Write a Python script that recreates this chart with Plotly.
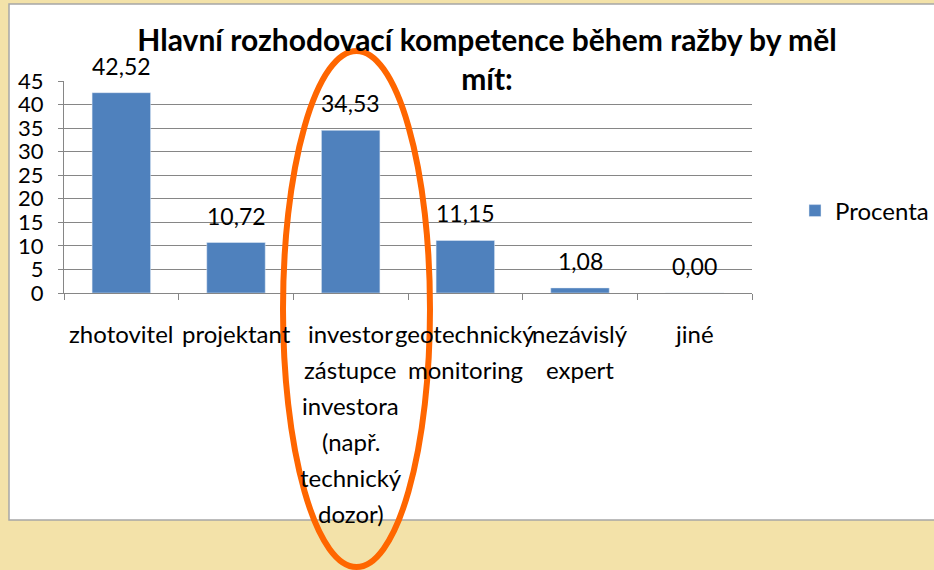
import plotly.graph_objects as go

categories = ["zhotovitel", "projektant",
              "investor zástupce investora (např. technický dozor)",
              "geotechnický monitoring", "nezávislý expert", "jiné"]
tick_lines = [["zhotovitel"], ["projektant"],
              ["investor", "zástupce", "investora", "(např.", "technický", "dozor)"],
              ["geotechnický", "monitoring"], ["nezávislý", "expert"], ["jiné"]]
procenta = [42.52, 10.72, 34.53, 11.15, 1.08, 0.00]

W, H = 934, 570
L, R, T, B = 64, 182, 81, 277
PW, PH = W - L - R, H - T - B
FONT = "Lato, 'Open Sans', sans-serif"


def px(x):
    return (x - L) / PW


def py(y):
    return (H - B - y) / PH


fig = go.Figure(go.Bar(
    x=categories, y=procenta, name="Procenta",
    marker_color="#4f81bd", width=0.51,
))

annotations = []
for cat, v in zip(categories, procenta):
    annotations.append(dict(
        x=cat, y=v, text=f"{v:.2f}".replace(".", ","), showarrow=False,
        yanchor="middle", yshift=27, font=dict(size=23, color="#000"),
    ))
for cat, lines in zip(categories, tick_lines):
    for i, line in enumerate(lines):
        annotations.append(dict(
            x=cat, y=py(333 + 36 * i), yref="paper", text=line, showarrow=False,
            yanchor="middle", font=dict(size=24, color="#000"),
        ))

fig.update_layout(
    width=W, height=H,
    margin=dict(l=L, r=R, t=T, b=B, autoexpand=False),
    paper_bgcolor="#f3e2a9",
    plot_bgcolor="rgba(0,0,0,0)",
    font=dict(family=FONT, color="#000"),
    title=dict(
        text="<b>Hlavní rozhodovací kompetence během ražby by měl<br>mít:</b>",
        x=487 / W, xanchor="center", y=1 - 51 / H, yanchor="middle",
        font=dict(size=30),
    ),
    xaxis=dict(
        showticklabels=False, showline=True, linecolor="#868686",
        ticks="outside", tickson="boundaries", ticklen=6, tickcolor="#868686",
        showgrid=False,
    ),
    yaxis=dict(
        range=[0, 45], dtick=5, showline=True, linecolor="#868686",
        ticks="outside", ticklen=5, tickcolor="#868686",
        gridcolor="#868686", gridwidth=1, zeroline=False,
        tickfont=dict(size=22), ticklabelstandoff=10,
    ),
    showlegend=True,
    legend=dict(x=px(795), xanchor="left", y=py(211), yanchor="middle",
                font=dict(size=24), bgcolor="rgba(0,0,0,0)"),
    annotations=annotations,
    shapes=[
        dict(type="rect", xref="paper", yref="paper", layer="below",
             x0=px(9), x1=px(960), y0=py(4), y1=py(520),
             fillcolor="white", line=dict(color="#a6a6a6", width=1.5)),
        dict(type="circle", xref="paper", yref="paper", layer="above",
             x0=px(283), x1=px(430), y0=py(567), y1=py(51),
             line=dict(color="#ff6600", width=6)),
    ],
)

fig.write_html("out.html", config={"displayModeBar": False},
               post_script="document.body.style.margin='0';")
